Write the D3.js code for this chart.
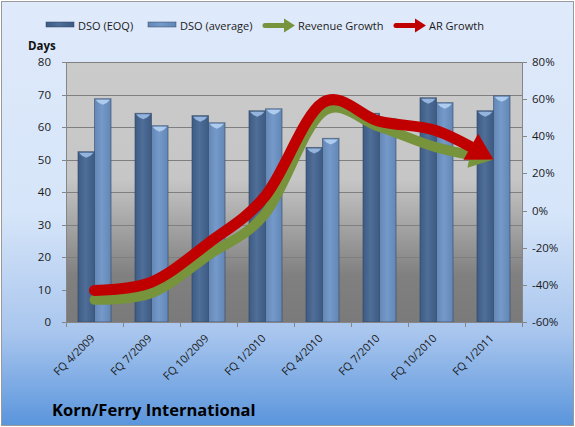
<!DOCTYPE html>
<html>
<head>
<meta charset="utf-8">
<script src="https://cdn.jsdelivr.net/npm/d3@7"></script>
<style>
  body { margin: 0; background: #fff; }
  svg text { font-family: "Open Sans", "DejaVu Sans", sans-serif; }
</style>
</head>
<body>
<div id="chart"></div>
<script>
var categories = ["FQ 4/2009", "FQ 7/2009", "FQ 10/2009", "FQ 1/2010", "FQ 4/2010", "FQ 7/2010", "FQ 10/2010", "FQ 1/2011"];
var dsoEoq = [52.4, 64.2, 63.5, 65.0, 53.7, 64.2, 69.0, 65.0];
var dsoAvg = [68.7, 60.4, 61.3, 65.6, 56.5, 62.5, 67.5, 69.6];
var revenueGrowth = [-48, -44.5, -24, -1.5, 53, 45, 34, 27.5];
var arGrowth = [-43, -38.5, -17.5, 8, 58, 48, 43, 27.5];
var leftTicks = [0, 10, 20, 30, 40, 50, 60, 70, 80];
var rightTicks = [-60, -40, -20, 0, 20, 40, 60, 80];

var width = 575, height = 427;
var plot = { left: 66, right: 522, top: 62, bottom: 322 };

var svg = d3.select("#chart").append("svg")
    .attr("width", width)
    .attr("height", height);

var defs = svg.append("defs");

// outer background
var bg = defs.append("linearGradient").attr("id", "bgGrad")
    .attr("x1", 0).attr("y1", 0).attr("x2", 0).attr("y2", 1);
bg.append("stop").attr("offset", "0%").attr("stop-color", "#dfeafb");
bg.append("stop").attr("offset", "50%").attr("stop-color", "#d6e5f9");
bg.append("stop").attr("offset", "78%").attr("stop-color", "#a9c6ee");
bg.append("stop").attr("offset", "100%").attr("stop-color", "#5a95dc");

var pg = defs.append("linearGradient").attr("id", "plotGrad")
    .attr("x1", 0).attr("y1", 0).attr("x2", 0).attr("y2", 1);
pg.append("stop").attr("offset", "0%").attr("stop-color", "#cbcbcb");
pg.append("stop").attr("offset", "45%").attr("stop-color", "#c6c6c6");
pg.append("stop").attr("offset", "82%").attr("stop-color", "#808080");
pg.append("stop").attr("offset", "100%").attr("stop-color", "#7a7a7a");

function barGrad(id, edge, mid) {
    var g = defs.append("linearGradient").attr("id", id)
        .attr("x1", 0).attr("y1", 0).attr("x2", 1).attr("y2", 0);
    g.append("stop").attr("offset", "0%").attr("stop-color", edge);
    g.append("stop").attr("offset", "45%").attr("stop-color", mid);
    g.append("stop").attr("offset", "100%").attr("stop-color", edge);
}
barGrad("eoqGrad", "#3d5b83", "#4f6e98");
barGrad("avgGrad", "#6287b6", "#7599c8");

svg.append("rect")
    .attr("x", 1.5).attr("y", 1.5)
    .attr("width", width - 3).attr("height", height - 3)
    .attr("fill", "url(#bgGrad)")
    .attr("stroke", "#9a9a9a");

svg.append("rect")
    .attr("x", plot.left).attr("y", plot.top)
    .attr("width", plot.right - plot.left).attr("height", plot.bottom - plot.top)
    .attr("fill", "url(#plotGrad)");

/* scales */
var x0 = d3.scaleBand()
    .domain(categories)
    .range([plot.left, plot.right])
    .paddingInner(0.42)
    .paddingOuter(0.21);

var x1 = d3.scaleBand()
    .domain(["eoq", "avg"])
    .range([0, x0.bandwidth()]);

var yL = d3.scaleLinear().domain([0, 80]).range([plot.bottom, plot.top]);
var yR = d3.scaleLinear().domain([-60, 80]).range([plot.bottom, plot.top]);

var step = x0.step();
function cx(c) { return plot.left + categories.indexOf(c) * step + step / 2; }

/* gridlines */
svg.append("g")
    .selectAll("line")
    .data(leftTicks)
    .enter().append("line")
    .attr("x1", plot.left).attr("x2", plot.right)
    .attr("y1", function(d) { return Math.round(yL(d)) + 0.5; })
    .attr("y2", function(d) { return Math.round(yL(d)) + 0.5; })
    .attr("stroke", "#7f7f7f")
    .attr("stroke-width", 1);

/* bars */
var series = [
    { key: "eoq", values: dsoEoq, fill: "url(#eoqGrad)", top: "#9cbde6" },
    { key: "avg", values: dsoAvg, fill: "url(#avgGrad)", top: "#b4d2f2" }
];

series.forEach(function(s) {
    var g = svg.append("g");
    var bars = g.selectAll("g")
        .data(categories)
        .enter().append("g");
    bars.append("rect")
        .attr("x", function(d) { return x0(d) + x1(s.key); })
        .attr("y", function(d, i) { return yL(s.values[i]); })
        .attr("width", x1.bandwidth())
        .attr("height", function(d, i) { return yL(0) - yL(s.values[i]); })
        .attr("fill", s.fill)
        .attr("stroke", "rgba(45,65,95,0.55)")
        .attr("stroke-width", 1);
    bars.append("path")
        .attr("d", function(d, i) {
            var bx = x0(d) + x1(s.key), bw = x1.bandwidth(), by = yL(s.values[i]);
            return "M" + (bx + 1) + "," + (by + 1) +
                   "L" + (bx + bw - 1) + "," + (by + 1) +
                   "L" + (bx + bw - 4) + "," + (by + 4) +
                   "L" + (bx + bw / 2) + "," + (by + 6) +
                   "L" + (bx + 4) + "," + (by + 4) + "Z";
        })
        .attr("fill", s.top)
        .attr("opacity", 0.9);
});

/* axes lines and ticks */
var axisColor = "#868686";
svg.append("line")
    .attr("x1", plot.left + 0.5).attr("x2", plot.left + 0.5)
    .attr("y1", plot.top).attr("y2", plot.bottom)
    .attr("stroke", axisColor);
svg.append("line")
    .attr("x1", plot.right + 0.5).attr("x2", plot.right + 0.5)
    .attr("y1", plot.top).attr("y2", plot.bottom)
    .attr("stroke", axisColor);
svg.append("line")
    .attr("x1", plot.left).attr("x2", plot.right)
    .attr("y1", plot.bottom + 0.5).attr("y2", plot.bottom + 0.5)
    .attr("stroke", axisColor);

svg.append("g").selectAll("line")
    .data(leftTicks).enter().append("line")
    .attr("x1", plot.left - 4).attr("x2", plot.left)
    .attr("y1", function(d) { return Math.round(yL(d)) + 0.5; })
    .attr("y2", function(d) { return Math.round(yL(d)) + 0.5; })
    .attr("stroke", axisColor);

svg.append("g").selectAll("line")
    .data(rightTicks).enter().append("line")
    .attr("x1", plot.right).attr("x2", plot.right + 5)
    .attr("y1", function(d) { return Math.round(yR(d)) + 0.5; })
    .attr("y2", function(d) { return Math.round(yR(d)) + 0.5; })
    .attr("stroke", axisColor);

svg.append("g").selectAll("line")
    .data(d3.range(categories.length + 1)).enter().append("line")
    .attr("x1", function(d) { return Math.round(plot.left + d * step) + 0.5; })
    .attr("x2", function(d) { return Math.round(plot.left + d * step) + 0.5; })
    .attr("y1", plot.bottom).attr("y2", plot.bottom + 5)
    .attr("stroke", axisColor);

/* tick labels */
svg.append("g").selectAll("text")
    .data(leftTicks).enter().append("text")
    .attr("x", 51)
    .attr("y", function(d) { return yL(d) + 4; })
    .attr("text-anchor", "end")
    .attr("font-size", "11.5px")
    .attr("fill", "#1a1a1a")
    .text(function(d) { return d; });

svg.append("g").selectAll("text")
    .data(rightTicks).enter().append("text")
    .attr("x", 532)
    .attr("y", function(d) { return yR(d) + 4; })
    .attr("font-size", "11.5px")
    .attr("fill", "#1a1a1a")
    .text(function(d) { return d + "%"; });

svg.append("g").selectAll("text")
    .data(categories).enter().append("text")
    .attr("transform", function(d) { return "translate(" + (cx(d) + 1) + "," + (plot.bottom + 17) + ") rotate(-45)"; })
    .attr("text-anchor", "end")
    .attr("font-size", "11px")
    .attr("fill", "#1a1a1a")
    .text(function(d) { return d; });

svg.append("text")
    .attr("x", 28).attr("y", 50)
    .attr("font-size", "11.5px")
    .attr("font-weight", "bold")
    .attr("fill", "#111")
    .text("Days");

/* growth lines */
var line = d3.line()
    .x(function(d) { return cx(d.cat); })
    .y(function(d) { return yR(d.v); })
    .curve(d3.curveCatmullRom.alpha(0));

function drawArrowLine(values, color, w, headLen, headHalf) {
    var pts = categories.map(function(c, i) { return { cat: c, v: values[i] }; });
    var p = svg.append("path")
        .attr("d", line(pts))
        .attr("fill", "none")
        .attr("stroke", color)
        .attr("stroke-width", w)
        .attr("stroke-linecap", "round");
    var node = p.node();
    var L = node.getTotalLength();
    p.attr("stroke-dasharray", (L - headLen + 3) + " " + (L + 20));
    var tip = node.getPointAtLength(L);
    var base = node.getPointAtLength(L - headLen);
    var ang = Math.atan2(tip.y - base.y, tip.x - base.x);
    var bx = tip.x - headLen * Math.cos(ang), by = tip.y - headLen * Math.sin(ang);
    var nx = -Math.sin(ang), ny = Math.cos(ang);
    svg.append("path")
        .attr("d", "M" + tip.x + "," + tip.y +
                   "L" + (bx + nx * headHalf) + "," + (by + ny * headHalf) +
                   "L" + (bx - nx * headHalf) + "," + (by - ny * headHalf) + "Z")
        .attr("fill", color);
}

drawArrowLine(revenueGrowth, "#77933c", 10, 24, 13);
drawArrowLine(arGrowth, "#c00000", 11, 26, 15);

/* legend */
var legend = svg.append("g");
function legendBar(x, fill) {
    legend.append("rect")
        .attr("x", x).attr("y", 22).attr("width", 28).attr("height", 5)
        .attr("fill", fill)
        .attr("stroke", "rgba(45,65,95,0.6)")
        .attr("stroke-width", 0.8);
}
function legendArrow(x, color) {
    legend.append("line")
        .attr("x1", x).attr("x2", x + 20)
        .attr("y1", 25.5).attr("y2", 25.5)
        .attr("stroke", color).attr("stroke-width", 5)
        .attr("stroke-linecap", "round");
    legend.append("path")
        .attr("d", "M" + (x + 30) + ",25.5 L" + (x + 19) + ",18.5 L" + (x + 19) + ",32.5 Z")
        .attr("fill", color);
}
function legendText(x, t) {
    legend.append("text")
        .attr("x", x).attr("y", 30)
        .attr("font-size", "11px")
        .attr("fill", "#1a1a1a")
        .text(t);
}
legendBar(46, "url(#eoqGrad)");
legendText(78, "DSO (EOQ)");
legendBar(148, "url(#avgGrad)");
legendText(180, "DSO (average)");
legendArrow(265, "#77933c");
legendText(298, "Revenue Growth");
legendArrow(396, "#c00000");
legendText(429, "AR Growth");

/* title */
svg.append("text")
    .attr("x", 52).attr("y", 416)
    .attr("font-size", "16.5px")
    .attr("font-weight", "bold")
    .attr("fill", "#000")
    .text("Korn/Ferry International");
</script>
</body>
</html>
